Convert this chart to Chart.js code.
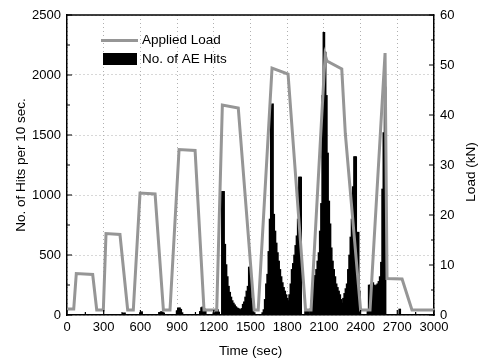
<!DOCTYPE html>
<html>
<head>
<meta charset="utf-8">
<script src="https://cdn.jsdelivr.net/npm/chart.js@4.4.0/dist/chart.umd.min.js"></script>
<style>
  body { margin: 0; background: #fff; }
  canvas { display: block; }
</style>
</head>
<body>
<canvas id="myChart" width="481" height="361"></canvas>
<script>
// applied load (kN), vertices of the loading history
let loadTimes = [0, 55, 76, 210, 243, 297, 319, 433, 496, 542, 597, 720, 788, 842, 916, 1047, 1120, 1224,
  1270, 1400, 1530, 1563, 1676, 1807, 1950, 1995, 2110, 2125, 2246, 2275, 2400, 2477, 2600, 2616, 2739, 2820, 3000];
let loadValues = [1.2, 1.2, 8.3, 8.1, 1.0, 1.0, 16.3, 16.1, 1.0, 1.0, 24.4, 24.2, 1.0, 1.0, 33.1, 32.9, 1.0, 1.0,
  42.0, 41.4, 1.0, 1.0, 49.4, 48.2, 1.0, 1.0, 52.0, 50.8, 49.2, 36.3, 1.0, 1.0, 52.4, 7.3, 7.2, 1.0, 1.0];

// AE hits per 10 sec
let hitTimes = [460, 470, 600, 610, 760, 770, 780, 790, 900, 910, 920, 930, 940, 1090, 1100, 1110, 1120, 1130,
  1200, 1220, 1230, 1240,
  1270, 1280, 1290, 1300, 1310, 1320, 1330, 1340, 1350, 1360, 1370, 1380, 1390, 1400, 1410, 1420, 1430, 1440,
  1450, 1460, 1470, 1480, 1490, 1500, 1510, 1520, 1530,
  1600, 1610, 1620, 1630, 1640, 1650, 1660, 1670, 1680, 1690, 1700, 1710, 1720, 1730, 1740, 1750, 1760, 1770,
  1780, 1790, 1800, 1810, 1820, 1830, 1840, 1850, 1860, 1870, 1880, 1890, 1900, 1910, 1950, 1960, 1970,
  1990, 2000, 2010, 2020, 2030, 2040, 2050, 2060, 2070, 2080, 2090, 2100, 2110, 2120, 2130, 2140, 2150, 2160,
  2170, 2180, 2190, 2200, 2210, 2220, 2230, 2240, 2250, 2260, 2270, 2280, 2290, 2300, 2310, 2320, 2330, 2340,
  2350, 2360, 2370, 2380, 2390,
  2460, 2470, 2480, 2490, 2500, 2510, 2520, 2530, 2540, 2550, 2560, 2570, 2580, 2590, 2600, 2720];
let hitCounts = [15, 18, 20, 28, 22, 28, 25, 18, 35, 58, 60, 48, 20, 30, 62, 68, 55, 40,
  20, 30, 45, 25,
  1030, 1030, 590, 420, 320, 240, 190, 150, 120, 100, 85, 70, 60, 55, 48, 42, 55, 90,
  110, 150, 200, 240, 400, 400, 140, 50, 20,
  20, 45, 130, 260, 340, 530, 800, 1750, 1760, 840, 700, 600, 520, 450, 380, 320, 270, 230,
  200, 170, 140, 120, 170, 260, 380, 430, 500, 580, 660, 800, 1150, 1150, 30, 40, 30,
  50, 120, 220, 280, 330, 380, 450, 520, 700, 930, 1830, 2355, 2190, 1830, 1350, 950, 760, 560,
  450, 380, 320, 260, 230, 200, 170, 130, 100, 140, 180, 220, 260, 380, 500, 650, 800, 1070,
  1320, 1320, 690, 690, 200,
  30, 250, 250, 260, 270, 250, 240, 250, 260, 280, 320, 440, 1050, 1520, 1900, 50];

let xTicks = [0, 300, 600, 900, 1200, 1500, 1800, 2100, 2400, 2700, 3000];
let hitTicks = [0, 500, 1000, 1500, 2000, 2500];
let loadTicks = [0, 10, 20, 30, 40, 50, 60];

let lineGray = "#969696";
let fontFam = "'Liberation Sans', Arial, sans-serif";

// inward tick marks, box top, legend and right title
let extras = {
  id: "extras",
  afterDraw(chart) {
    let ctx = chart.ctx;
    let a = chart.chartArea;
    let sx = chart.scales.x, sy = chart.scales.y, sr = chart.scales.yR;
    ctx.save();
    ctx.strokeStyle = "#000";
    ctx.lineWidth = 1.2;
    ctx.beginPath();
    for (let v = 0; v <= 3000; v += 150) {
      let p = sx.getPixelForValue(v);
      let len = v % 300 === 0 ? 5 : 3;
      ctx.moveTo(p, a.bottom);
      ctx.lineTo(p, a.bottom - len);
    }
    for (let v = 0; v <= 2500; v += 250) {
      let p = sy.getPixelForValue(v);
      let len = v % 500 === 0 ? 5 : 3;
      ctx.moveTo(a.left, p);
      ctx.lineTo(a.left + len, p);
    }
    for (let v = 0; v <= 60; v += 5) {
      let p = sr.getPixelForValue(v);
      let len = v % 10 === 0 ? 5 : 3;
      ctx.moveTo(a.right, p);
      ctx.lineTo(a.right - len, p);
    }
    ctx.stroke();

    // top of the box
    ctx.lineWidth = 1.5;
    ctx.beginPath();
    ctx.moveTo(a.left, a.top);
    ctx.lineTo(a.right, a.top);
    ctx.stroke();

    // legend
    ctx.strokeStyle = lineGray;
    ctx.lineWidth = 3;
    ctx.beginPath();
    ctx.moveTo(101, 40.5);
    ctx.lineTo(138, 40.5);
    ctx.stroke();
    ctx.fillStyle = "#000";
    ctx.fillRect(103, 53, 34, 12);
    ctx.font = "13.5px " + fontFam;
    ctx.textBaseline = "middle";
    ctx.fillText("Applied Load", 142, 40);
    ctx.fillText("No. of AE Hits", 142, 59);

    // right axis title, reads bottom to top
    ctx.translate(471, 172);
    ctx.rotate(-Math.PI / 2);
    ctx.textAlign = "center";
    ctx.fillText("Load (kN)", 0, 0);
    ctx.restore();
  }
};

let grid = { color: "#b0b0b0", lineWidth: 1, drawTicks: false, offset: false };
let border = { color: "#000", width: 1.5, dash: [1, 3] };
let plain = (v) => String(v);

let ctx = document.getElementById("myChart");
let chart = new Chart(ctx, {
  data: {
    datasets: [
      {
        type: "line",
        label: "Applied Load",
        data: loadTimes.map((t, i) => ({ x: t, y: loadValues[i] })),
        yAxisID: "yR",
        borderColor: lineGray,
        borderWidth: 3,
        pointRadius: 0,
        tension: 0,
        order: 0
      },
      {
        type: "bar",
        label: "No. of AE Hits",
        data: hitTimes.map((t, i) => ({ x: t, y: hitCounts[i] })),
        yAxisID: "y",
        backgroundColor: "#000",
        borderWidth: 0,
        barThickness: 2,
        order: 1
      }
    ]
  },
  options: {
    responsive: false,
    animation: false,
    devicePixelRatio: 1,
    layout: { padding: { top: 15, left: 0, right: 0, bottom: 0 } },
    plugins: { legend: { display: false }, tooltip: { enabled: false } },
    scales: {
      x: {
        type: "linear",
        position: "bottom",
        offset: false,
        min: 0,
        max: 3000,
        afterBuildTicks: (s) => { s.ticks = xTicks.map((v) => ({ value: v })); },
        ticks: { color: "#000", padding: 5, maxRotation: 0, callback: plain, font: { family: fontFam, size: 13 } },
        grid: grid,
        border: border,
        title: { display: true, text: "Time (sec)", color: "#000", padding: 2, font: { family: fontFam, size: 13.5 } },
        afterFit: (s) => { s.height = 46; }
      },
      y: {
        position: "left",
        min: 0,
        max: 2500,
        afterBuildTicks: (s) => { s.ticks = hitTicks.map((v) => ({ value: v })); },
        ticks: { color: "#000", padding: 6, callback: plain, font: { family: fontFam, size: 13 } },
        grid: grid,
        border: border,
        title: { display: true, text: "No. of Hits per 10 sec.", color: "#000", padding: 13, font: { family: fontFam, size: 13.5 } },
        afterFit: (s) => { s.width = 67; }
      },
      yR: {
        position: "right",
        min: 0,
        max: 60,
        afterBuildTicks: (s) => { s.ticks = loadTicks.map((v) => ({ value: v })); },
        ticks: { color: "#000", padding: 6, callback: plain, font: { family: fontFam, size: 13 } },
        grid: { display: false, drawTicks: false },
        border: { color: "#000", width: 1.5 },
        afterFit: (s) => { s.width = 47; }
      }
    }
  },
  plugins: [extras]
});
</script>
</body>
</html>
